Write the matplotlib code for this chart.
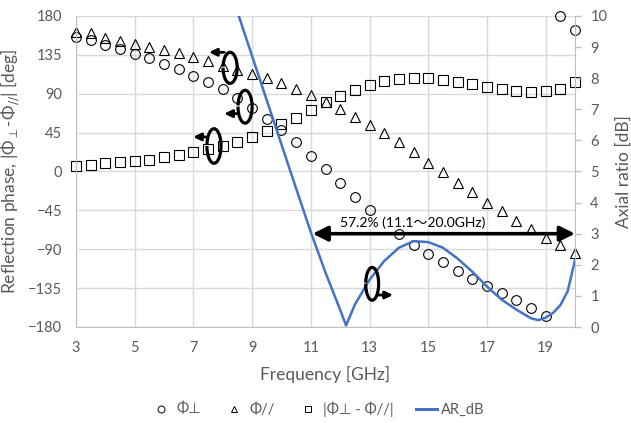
import matplotlib
matplotlib.use("Agg")
import matplotlib.pyplot as plt
from matplotlib.patches import Arc
from matplotlib.lines import Line2D

plt.rcParams['font.family'] = ['Lato', 'DejaVu Sans', 'Noto Sans CJK JP']
plt.rcParams['mathtext.fontset'] = 'dejavusans'

# ---------------- data ----------------
freq = [3.0, 3.5, 4.0, 4.5, 5.0, 5.5, 6.0, 6.5, 7.0, 7.5, 8.0, 8.5, 9.0, 9.5,
        10.0, 10.5, 11.0, 11.5, 12.0, 12.5, 13.0, 13.5, 14.0, 14.5, 15.0, 15.5,
        16.0, 16.5, 17.0, 17.5, 18.0, 18.5, 19.0, 19.5, 20.0]
phi_perp = [156, 152, 147, 142, 136, 131, 125, 119, 111, 104, 95, 85, 74, 61,
            48, 34, 18, 3, -13, -29, -45, -58, -72, -85, -95, -105,
            -115, -124, -133, -141, -149, -158, -167, 180, 164]
phi_par = [162, 160, 155, 151, 148, 144, 141, 137, 132, 128, 122, 118, 113, 108,
           102, 96, 88.5, 80, 72, 63, 54, 44, 34, 23, 10, -1,
           -13, -24, -36, -46, -57, -67, -77, -85, -94]
phi_diff = [6.7, 8, 9.5, 11, 12, 13.7, 16.4, 19.4, 22.6, 25.7, 30, 34.5, 40, 47,
            55, 62, 71, 80, 87, 94, 100.5, 105, 107, 108, 108, 106,
            104, 101, 98, 95.5, 93.5, 92.4, 93, 96, 104]

ar_freq = [8.5, 9.0, 9.5, 10.0, 10.5, 11.0, 11.5, 12.0, 12.2, 12.5, 13.0, 13.5,
           14.0, 14.5, 15.0, 15.5, 16.0, 16.5, 17.0, 17.5, 18.0, 18.5, 18.75,
           19.0, 19.25, 19.5, 19.75, 20.0]
ar_db = [10.13, 8.71, 7.29, 5.87, 4.45, 3.05, 1.75, 0.55, 0.05, 0.72, 1.52, 2.12,
         2.55, 2.76, 2.73, 2.55, 2.2, 1.78, 1.3, 0.88, 0.56, 0.28, 0.22,
         0.3, 0.45, 0.7, 1.15, 2.15]

x_ticks = [3, 5, 7, 9, 11, 13, 15, 17, 19]
phase_ticks = [-180, -135, -90, -45, 0, 45, 90, 135, 180]
ar_ticks = [0, 1, 2, 3, 4, 5, 6, 7, 8, 9, 10]

band_text = "57.2% (11.1～20.0GHz)"
band_lo, band_hi, band_level = 11.06, 20.0, 3.0

# ---------------- figure ----------------
TXT = '#595959'
GRID = '#d9d9d9'
AX = '#bfbfbf'
BLUE = '#4472C4'

fig = plt.figure(figsize=(6.31, 4.23), dpi=100)
ax = fig.add_axes([76/631, 1-327/423, (575-76)/631, (327-16)/423])
ax2 = ax.twinx()

ax.set_xlim(3, 20)
ax.set_ylim(-180, 180)
ax2.set_ylim(0, 10)

ax.set_xticks(x_ticks)
ax.set_yticks(phase_ticks)
ax2.set_yticks(ar_ticks)

ax.grid(True, color=GRID, lw=1.0)
ax.set_axisbelow(True)

for s in ['top', 'right']:
    ax.spines[s].set_visible(False)
ax.spines['left'].set_color(AX)
ax.spines['bottom'].set_color(AX)
for s in ['top', 'left', 'bottom']:
    ax2.spines[s].set_visible(False)
ax2.spines['right'].set_color(AX)

ax.tick_params(axis='both', length=0, labelsize=10.5, labelcolor=TXT)
ax.tick_params(axis='x', pad=10)
ax.tick_params(axis='y', pad=10)
ax2.tick_params(axis='y', length=4, width=1, color=AX, labelsize=10.5,
                labelcolor=TXT, pad=7)

mk = dict(linestyle='none', markerfacecolor='none', markeredgecolor='black',
          markeredgewidth=0.8, markersize=7, clip_on=False)
ax.plot(freq, phi_perp, marker='o', **mk)
ax.plot(freq, phi_par, marker='^', **mk)
ax.plot(freq, phi_diff, marker='s', **{**mk, 'markersize': 6.5})

ax2.plot(ar_freq, ar_db, color=BLUE, lw=1.8, solid_joinstyle='round')

ax.set_xlabel('Frequency [GHz]', fontsize=12.5, color=TXT, labelpad=8)
ax.set_ylabel(r'Reflection phase, |Φ$_{\perp}$-Φ$_{//}$| [deg]', fontsize=12.5,
              color=TXT, labelpad=4)
ax2.set_ylabel('Axial ratio [dB]', fontsize=12.5, color=TXT, labelpad=6)

# band annotation
ax2.text((band_lo + band_hi) / 2 - 1.05, band_level + 0.36, band_text,
         ha='center', va='center', fontsize=10, color='black',
         bbox=dict(facecolor='white', edgecolor='none', pad=0.5), zorder=5)
ax2.annotate('', xy=(band_lo, band_level), xytext=(band_hi, band_level),
             arrowprops=dict(arrowstyle='<|-|>,head_length=0.9,head_width=0.45',
                             color='black', lw=2.6, shrinkA=0, shrinkB=0),
             zorder=6)


# rotation icons
def icon(cx, cy, w, h, ax_from, ax_to, ay, transform):
    arc = Arc((cx, cy), w, h, theta1=150, theta2=460, lw=2.3, color='black',
              transform=transform, zorder=6)
    ax2.add_patch(arc)
    ax2.annotate('', xy=(ax_to, ay), xytext=(ax_from, ay),
                 xycoords=transform, textcoords=transform,
                 arrowprops=dict(arrowstyle='-|>,head_length=0.45,head_width=0.22',
                                 color='black', lw=2.0, shrinkA=0, shrinkB=0),
                 zorder=6)

icon(8.25, 120, 0.48, 36, 8.05, 7.53, 138, ax.transData)
icon(8.76, 75, 0.48, 38, 8.49, 8.05, 67, ax.transData)
icon(7.70, 29.5, 0.48, 40, 7.43, 6.99, 40, ax.transData)
icon(13.09, -130, 0.44, 38, 13.29, 13.80, -143, ax.transData)

# legend
handles = [
    Line2D([], [], marker='o', linestyle='none', markerfacecolor='none',
           markeredgecolor='black', markeredgewidth=0.7, markersize=5),
    Line2D([], [], marker='^', linestyle='none', markerfacecolor='none',
           markeredgecolor='black', markeredgewidth=0.7, markersize=5),
    Line2D([], [], marker='s', linestyle='none', markerfacecolor='none',
           markeredgecolor='black', markeredgewidth=0.7, markersize=5),
    Line2D([], [], color=BLUE, lw=2.2),
]
labels = ['Φ⊥', 'Φ//', '|Φ⊥ - Φ//|', 'AR_dB']
leg = fig.legend(handles, labels, loc='center', bbox_to_anchor=(318/631, 1-409/423),
                 ncol=4, frameon=False, fontsize=10.5, handlelength=1.4,
                 handletextpad=0.3, columnspacing=1.6)
for t in leg.get_texts():
    t.set_color(TXT)

fig.savefig('out.png', dpi=100)
